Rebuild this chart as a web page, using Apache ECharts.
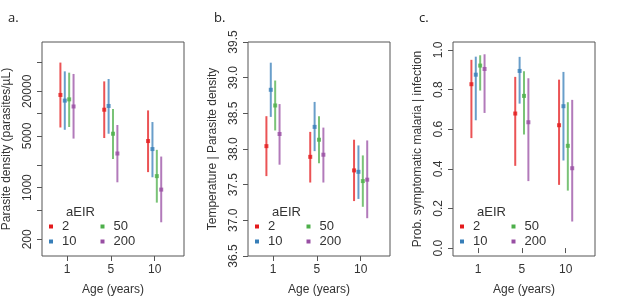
<!DOCTYPE html>
<html lang="en">
<head>
    <meta charset="UTF-8">
    <title>aEIR by age</title>
    <script src="https://cdn.jsdelivr.net/npm/echarts@6/dist/echarts.min.js"></script>
    <style>
        html, body { margin: 0; padding: 0; background: #fff; }
        #chart { width: 617px; height: 308px; }
    </style>
</head>
<body>
<div id="chart"></div>
<script>
    // age groups on the x axis and the aEIR levels
    var ages = ['1', '5', '10'];
    var eirLevels = ['2', '10', '50', '200'];
    var eirColors = ['#E41A1C', '#377EB8', '#4DAF4A', '#984EA3'];
    var dodge = [-0.15, -0.05, 0.05, 0.15];

    // a. parasite density (parasites/uL), per aEIR: mid / low / high by age
    var densMid = [[17900, 11300, 4260], [15000, 12700, 3320], [15600, 5350, 1430], [12500, 2890, 940]];
    var densLo  = [[6500, 4680, 1620], [6050, 5350, 1380], [6600, 2430, 627], [4600, 1180, 340]];
    var densHi  = [[49000, 27300, 11060], [37300, 29400, 7700], [35800, 11560, 3240], [34400, 7020, 2630]];

    // b. temperature | parasite density
    var tempMid = [[38.04, 37.89, 37.70], [38.83, 38.31, 37.68], [38.61, 38.13, 37.55], [38.21, 37.92, 37.57]];
    var tempLo  = [[37.62, 37.53, 37.27], [38.45, 37.97, 37.30], [38.26, 37.80, 37.19], [37.78, 37.53, 37.03]];
    var tempHi  = [[38.46, 38.24, 38.13], [39.21, 38.66, 38.05], [38.96, 38.46, 37.91], [38.63, 38.30, 38.12]];

    // c. prob. symptomatic malaria | infection
    var probMid = [[0.827, 0.679, 0.620], [0.875, 0.894, 0.716], [0.921, 0.768, 0.516], [0.904, 0.635, 0.403]];
    var probLo  = [[0.555, 0.415, 0.319], [0.645, 0.729, 0.442], [0.795, 0.573, 0.290], [0.682, 0.338, 0.134]];
    var probHi  = [[0.950, 0.864, 0.850], [0.966, 0.965, 0.889], [0.973, 0.893, 0.736], [0.978, 0.857, 0.748]];

    // axis ticks
    var densTicks = [200, 500, 1000, 2000, 5000, 10000, 20000, 50000];
    var densLabels = [200, 1000, 5000, 20000];
    var probTicks = [0, 0.2, 0.4, 0.6, 0.8, 1.0];

    var FONT = '"Liberation Sans", Arial, sans-serif';
    var TXT = '#333';
    var LINE = '#555';

    var panels = [
        {letter: 'a.', left: 42, yName: 'Parasite density (parasites/\u00b5L)', mid: densMid, lo: densLo, hi: densHi},
        {letter: 'b.', left: 248, yName: 'Temperature | Parasite density', mid: tempMid, lo: tempLo, hi: tempHi},
        {letter: 'c.', left: 453, yName: 'Prob. symptomatic malaria | infection', mid: probMid, lo: probLo, hi: probHi}
    ];

    var grids = [], xAxes = [], yAxes = [], series = [], titles = [], legends = [], graphics = [];

    panels.forEach(function (p, pi) {
        grids.push({
            left: p.left, top: 42, width: 142, height: 214,
            show: true, borderColor: LINE, borderWidth: 1, backgroundColor: 'transparent',
            outerBoundsMode: 'none'
        });
        xAxes.push({
            gridIndex: pi, type: 'value', min: 0.43, max: 3.67,
            name: 'Age (years)', nameLocation: 'middle', nameGap: 28,
            nameTextStyle: {fontFamily: FONT, fontSize: 12, color: TXT},
            axisLine: {show: false},
            splitLine: {show: false},
            axisTick: {show: true, inside: false, length: 5, lineStyle: {color: LINE}, customValues: [1, 2, 3]},
            axisLabel: {
                customValues: [1, 2, 3], margin: 8, fontFamily: FONT, fontSize: 12, color: TXT,
                formatter: function (v) { return ages[Math.round(v) - 1]; }
            }
        });
        var y = {
            gridIndex: pi, name: p.yName, nameLocation: 'middle', nameRotate: 90, nameGap: 29,
            nameTextStyle: {fontFamily: FONT, fontSize: 12, color: TXT},
            axisLine: {show: false},
            splitLine: {show: false},
            axisTick: {show: true, inside: false, length: 5, lineStyle: {color: LINE}},
            axisLabel: {rotate: 90, margin: 8, fontFamily: FONT, fontSize: 12, color: TXT}
        };
        if (pi === 0) {
            y.type = 'log'; y.logBase = 10; y.min = 119; y.max = 93000;
            y.axisTick.customValues = densTicks;
            y.axisLabel.customValues = densLabels;
            y.axisLabel.formatter = function (v) { return String(Math.round(v)); };
        } else if (pi === 1) {
            y.type = 'value'; y.min = 36.5; y.max = 39.5; y.interval = 0.5;
            y.axisLabel.formatter = function (v) { return v.toFixed(1); };
        } else {
            y.type = 'value'; y.min = -0.04; y.max = 1.04;
            y.axisTick.customValues = probTicks;
            y.axisLabel.customValues = probTicks;
            y.axisLabel.formatter = function (v) { return v.toFixed(1); };
        }
        yAxes.push(y);

        eirLevels.forEach(function (lvl, k) {
            var bars = [], pts = [];
            ages.forEach(function (a, g) {
                var x = g + 1 + dodge[k];
                bars.push([x, p.lo[k][g], p.hi[k][g]]);
                pts.push([x, p.mid[k][g]]);
            });
            var col = eirColors[k];
            series.push({
                type: 'custom', name: lvl, xAxisIndex: pi, yAxisIndex: pi,
                color: col, encode: {x: 0, y: [1, 2]},
                renderItem: function (params, api) {
                    var a = api.coord([api.value(0), api.value(1)]);
                    var b = api.coord([api.value(0), api.value(2)]);
                    return {
                        type: 'line',
                        shape: {x1: a[0], y1: a[1], x2: b[0], y2: b[1]},
                        style: {stroke: col, lineWidth: 2, opacity: 0.75}
                    };
                },
                data: bars, silent: true
            });
            series.push({
                type: 'scatter', name: lvl, xAxisIndex: pi, yAxisIndex: pi,
                symbol: 'rect', symbolSize: 4, itemStyle: {color: col},
                data: pts
            });
        });

        titles.push({
            text: p.letter, left: p.left - 39, top: 7,
            textStyle: {fontFamily: '"Open Sans", sans-serif', fontSize: 13, fontWeight: 'normal', color: '#222'}
        });

        // legend: "aEIR" heading + two columns
        graphics.push({
            type: 'text', left: p.left + 24, top: 206,
            style: {text: 'aEIR', fontFamily: FONT, fontSize: 13, fill: TXT}
        });
        [['2', '10'], ['50', '200']].forEach(function (colItems, c) {
            legends.push({
                data: colItems, orient: 'vertical',
                left: p.left + 7 + c * 51.5, top: 220,
                icon: 'rect', itemWidth: 4, itemHeight: 4, itemGap: 2,
                padding: 0, selectedMode: false,
                textStyle: {fontFamily: FONT, fontSize: 13, color: TXT, padding: [0, 0, 0, 4]}
            });
        });
    });

    var chart = echarts.init(document.getElementById('chart'), null, {renderer: 'canvas'});
    chart.setOption({
        animation: false,
        backgroundColor: '#fff',
        title: titles,
        grid: grids,
        xAxis: xAxes,
        yAxis: yAxes,
        legend: legends,
        graphic: graphics,
        series: series
    });
</script>
</body>
</html>
